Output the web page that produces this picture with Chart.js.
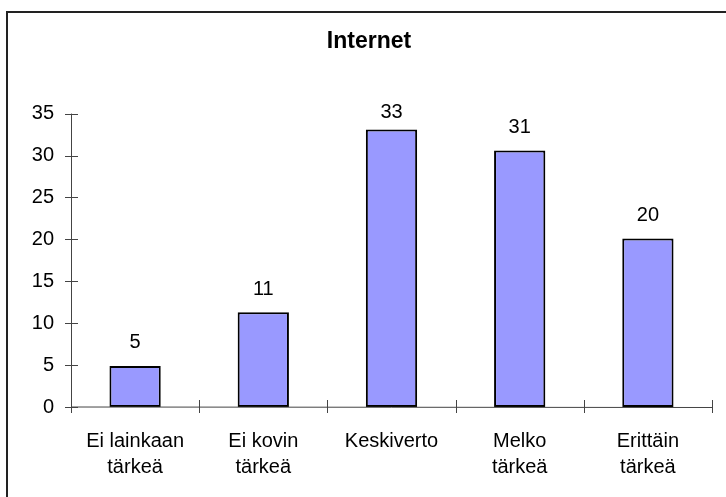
<!DOCTYPE html>
<html>
<head>
<meta charset="utf-8">
<script src="https://cdn.jsdelivr.net/npm/chart.js@4/dist/chart.umd.min.js"></script>
<style>
  html, body { margin: 0; padding: 0; background: #fff; }
  #wrap { position: relative; width: 726px; height: 497px; }
</style>
</head>
<body>
<div id="wrap"><canvas id="chart" width="726" height="497"></canvas></div>
<script>
// Data
const categories = [['Ei lainkaan', 'tärkeä'], ['Ei kovin', 'tärkeä'], 'Keskiverto', ['Melko', 'tärkeä'], ['Erittäin', 'tärkeä']];
const values = [4.9, 11.3, 33.1, 30.6, 20.1];
const yTicks = [0, 5, 10, 15, 20, 25, 30, 35];

const FONT = '"Liberation Sans", Arial, sans-serif';

// frame round the whole picture (only top and left are visible)
const framePlugin = {
    id: 'frame',
    beforeDraw(chart) {
        const c = chart.ctx;
        c.save();
        c.fillStyle = '#fff';
        c.fillRect(0, 0, chart.width, chart.height);
        c.strokeStyle = '#222';
        c.lineWidth = 2;
        c.beginPath();
        c.moveTo(7, chart.height);
        c.lineTo(7, 12);
        c.lineTo(chart.width, 12);
        c.stroke();
        c.restore();
    }
};

// axis lines and crossing tick marks, plus values over the bars
const axesPlugin = {
    id: 'axesMarks',
    afterDatasetsDraw(chart) {
        const c = chart.ctx;
        const x = chart.scales.x, y = chart.scales.y;
        const area = chart.chartArea;
        c.save();
        c.strokeStyle = '#444';
        c.lineWidth = 1;
        c.beginPath();
        c.moveTo(area.left + 0.5, y.getPixelForValue(35));
        c.lineTo(area.left + 0.5, y.getPixelForValue(0));
        c.lineTo(area.right, y.getPixelForValue(0) + 0.5);
        yTicks.forEach(v => {
            const py = Math.round(y.getPixelForValue(v)) + 0.5;
            c.moveTo(area.left - 6, py);
            c.lineTo(area.left + 7, py);
        });
        const base = Math.round(y.getPixelForValue(0));
        for (let i = 0; i <= categories.length; i++) {
            const px = Math.round(x.getPixelForValue(i - 0.5)) + 0.5;
            c.moveTo(px, base - 7);
            c.lineTo(px, base + 6);
        }
        c.stroke();

        c.fillStyle = '#000';
        c.font = '20px ' + FONT;
        c.textAlign = 'center';
        c.textBaseline = 'middle';
        chart.getDatasetMeta(0).data.forEach((bar, i) => {
            const ly = Math.max(bar.y - 23, area.top - 1);
            c.fillText(String(Math.round(values[i])), bar.x, ly);
        });
        c.restore();
    }
};

new Chart(document.getElementById('chart'), {
    type: 'bar',
    data: {
        labels: categories,
        datasets: [{
            data: values,
            backgroundColor: '#9999FF',
            borderColor: '#000',
            borderWidth: 2,
            borderSkipped: false,
            barPercentage: 0.4,
            categoryPercentage: 1
        }]
    },
    options: {
        responsive: false,
        animation: false,
        layout: { padding: { left: 26, right: 14, top: 0, bottom: 0 } },
        plugins: {
            legend: { display: false },
            tooltip: { enabled: false },
            title: {
                display: true,
                text: 'Internet',
                color: '#000',
                font: { family: FONT, size: 23, weight: 'bold', lineHeight: 1.2 },
                padding: { top: 28, bottom: 58 }
            }
        },
        scales: {
            x: {
                offset: true,
                grid: { display: false },
                border: { display: false },
                ticks: {
                    color: '#000',
                    font: { family: FONT, size: 20, lineHeight: 1.3 },
                    padding: 13,
                    maxRotation: 0,
                    autoSkip: false
                },
                afterFit(scale) { scale.height = 90; }
            },
            y: {
                min: 0,
                max: 35,
                grid: { display: false, drawTicks: false },
                border: { display: false },
                afterBuildTicks(scale) { scale.ticks = yTicks.map(v => ({ value: v })); },
                ticks: {
                    color: '#000',
                    font: { family: FONT, size: 20 },
                    padding: 17
                },
                afterFit(scale) { scale.width = 45; }
            }
        }
    },
    plugins: [framePlugin, axesPlugin]
});
</script>
</body>
</html>
